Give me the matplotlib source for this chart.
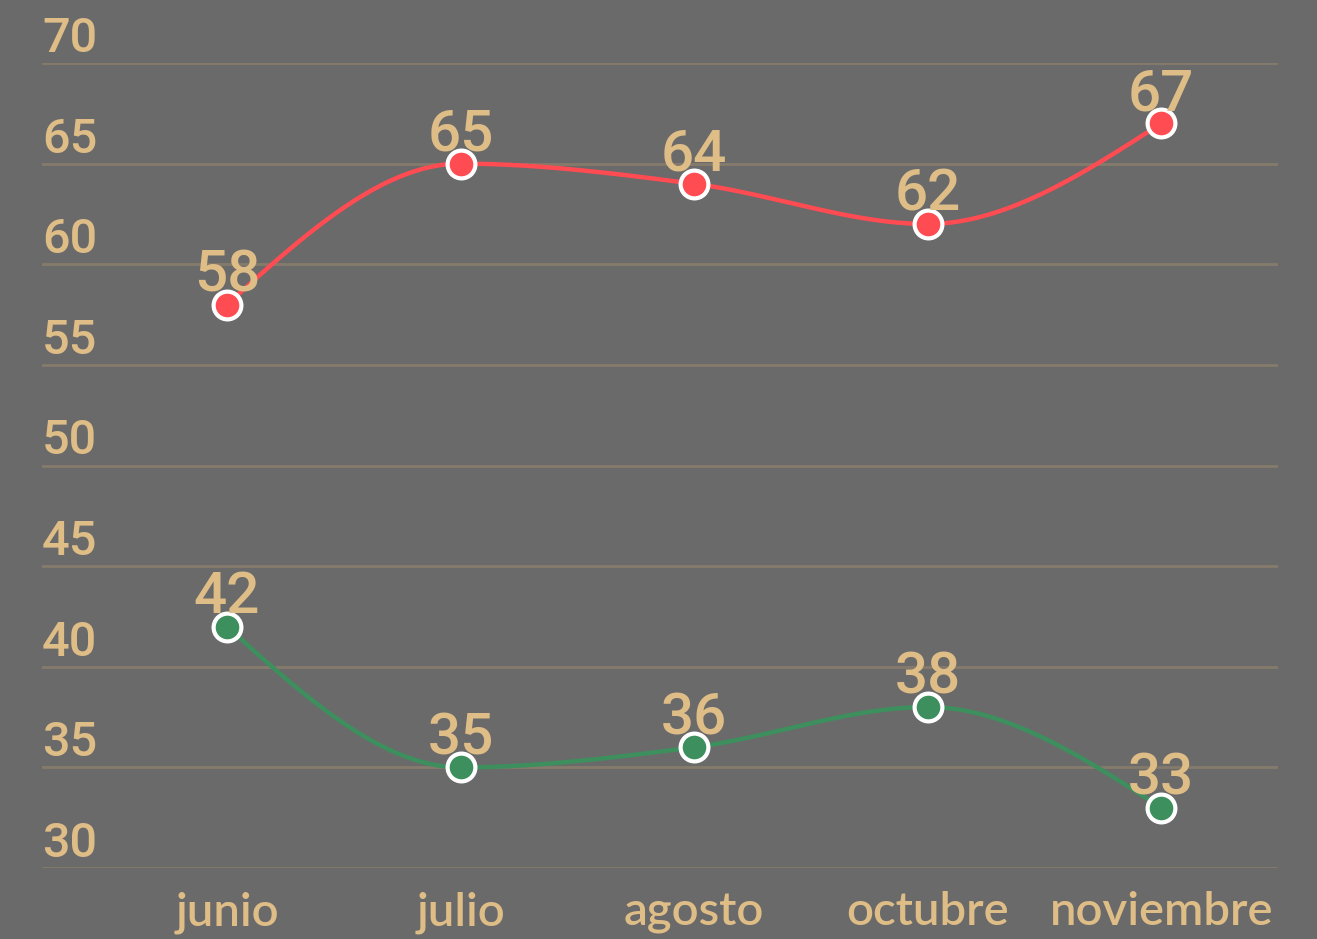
import numpy as np
import matplotlib
matplotlib.use("Agg")
import matplotlib.pyplot as plt
from matplotlib.transforms import offset_copy, blended_transform_factory

categories = ["junio", "julio", "agosto", "octubre", "noviembre"]
serie_alta = [58, 65, 64, 62, 67]
serie_baja = [42, 35, 36, 38, 33]
y_ticks = [30, 35, 40, 45, 50, 55, 60, 65, 70]

BG = "#6a6a6a"
GRID = "#857b6c"
TXT = "#dfbd87"
RED = "#ff4b52"
GREEN = "#3d8f5e"


def monotone_x(xs, ys, n=40):
    xs = np.asarray(xs, float)
    ys = np.asarray(ys, float)
    h = np.diff(xs)
    s = np.diff(ys) / h
    m = np.zeros_like(ys)
    for i in range(1, len(xs) - 1):
        s0, s1 = s[i - 1], s[i]
        p = (s0 * h[i] + s1 * h[i - 1]) / (h[i - 1] + h[i])
        m[i] = (np.sign(s0) + np.sign(s1)) * min(abs(s0), abs(s1), 0.5 * abs(p))
    m[0] = (3 * s[0] - m[1]) / 2
    m[-1] = (3 * s[-1] - m[-2]) / 2
    px, py = [], []
    for i in range(len(xs) - 1):
        t = np.linspace(0, 1, n)
        dx = h[i]
        h00 = 2 * t**3 - 3 * t**2 + 1
        h10 = t**3 - 2 * t**2 + t
        h01 = -2 * t**3 + 3 * t**2
        h11 = t**3 - t**2
        px.extend(xs[i] + t * dx)
        py.extend(h00 * ys[i] + h10 * dx * m[i] + h01 * ys[i + 1] + h11 * dx * m[i + 1])
    return np.array(px), np.array(py)


W, H = 1317, 939
fig = plt.figure(figsize=(W / 100, H / 100), dpi=100, facecolor=BG)
ax = fig.add_axes([42 / W, (H - 868) / H, (1278 - 42) / W, (868 - 63) / H])
ax.set_facecolor(BG)
x = np.arange(len(categories))
ax.set_xlim(-0.792, 4.5)
ax.set_ylim(30, 70)
for s in ax.spines.values():
    s.set_visible(False)
ax.set_xticks([])
ax.set_yticks([])
for yv in y_ticks:
    ax.axhline(yv, color=GRID, lw=2, zorder=1)

font = ["Roboto", "DejaVu Sans"]
blend = blended_transform_factory(ax.transAxes, ax.transData)
for yv in y_ticks:
    ax.text(0, yv, str(yv), transform=offset_copy(blend, fig=fig, y=11, units="dots"),
            ha="left", va="baseline", color=TXT, fontsize=35, family=font, weight="medium")

blend_x = blended_transform_factory(ax.transData, ax.transAxes)
for xi, c in zip(x, categories):
    ax.text(xi, 0, c, transform=offset_copy(blend_x, fig=fig, y=-57, units="dots"),
            ha="center", va="baseline", color=TXT, fontsize=34, family=["Lato", "DejaVu Sans"],
            weight="semibold")

for ys, col in [(serie_alta, RED), (serie_baja, GREEN)]:
    sx, sy = monotone_x(x, ys)
    ax.plot(sx, sy, color=col, lw=3.2, zorder=3, solid_capstyle="round")
    ax.plot(x, ys, "o", ms=20, mfc=col, mec="white", mew=3, zorder=4, ls="none")
    for xi, yv in zip(x, ys):
        ax.text(xi, yv, str(yv), transform=offset_copy(ax.transData, fig=fig, y=13, units="dots"),
                ha="center", va="baseline", color=TXT, fontsize=42, family=font,
                weight="medium", zorder=5)

fig.savefig("out.png", dpi=100, facecolor=BG)
